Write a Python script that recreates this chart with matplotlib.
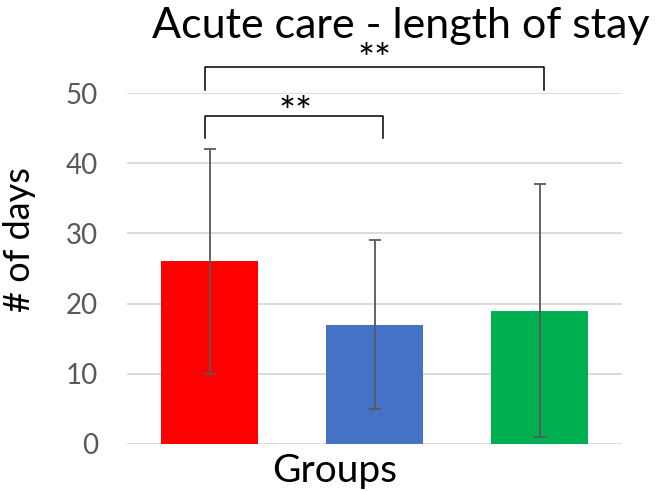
import numpy as np
import matplotlib.pyplot as plt

plt.rcParams['font.family'] = ['Lato', 'DejaVu Sans']

# average length of stay per group, with error bar limits
groups = ['Group 1', 'Group 2', 'Group 3']
days = [26, 17, 19]
err_low = [10, 5, 1]
err_high = [42, 29, 37]
colors = ['#FF0000', '#4472C4', '#00B050']

# significance brackets: (left bar, right bar, label)
sig_pairs = [(0, 1, '**'), (0, 2, '**')]

fig = plt.figure(figsize=(6.59, 4.91), dpi=100)
ax = fig.add_axes([127 / 659, 1 - 444 / 491, 495 / 659, 351 / 491])

x = np.arange(len(groups))
yerr = [np.array(days) - np.array(err_low), np.array(err_high) - np.array(days)]
ax.bar(x, days, width=0.59, color=colors, zorder=2)
ax.errorbar(x, days, yerr=yerr, fmt='none', ecolor='#595959', elinewidth=1.3,
            capsize=4.5, capthick=1.3, zorder=3)

ax.set_xlim(-0.5, 2.5)
ax.set_ylim(0, 50)
ax.set_yticks(range(0, 51, 10))
ax.set_xticks([])
ax.grid(axis='y', color='#d9d9d9', linewidth=1.3, zorder=0)
for s in ax.spines.values():
    s.set_visible(False)
ax.tick_params(axis='y', length=0, labelsize=20, labelcolor='#595959', pad=21)

# brackets drawn in data units
brackets = [(-0.03, 1.05, 43.6, 46.7), (-0.03, 2.03, 50.4, 53.7)]
star_pos = [(0.52, 49.6), (1.0, 57.1)]
for (x0, x1, yb, yt), (sx, sy), (_, _, lab) in zip(brackets, star_pos, sig_pairs):
    ax.plot([x0, x0, x1, x1], [yb, yt, yt, yb], color='black', lw=1.1,
            clip_on=False, zorder=4)
    ax.text(sx, sy, lab, ha='center', va='top', fontsize=29, clip_on=False)

fig.text(401 / 659, 1 - 38 / 491, 'Acute care - length of stay', ha='center',
         va='baseline', fontsize=31)
fig.text(335 / 659, 1 - 482 / 491, 'Groups', ha='center', va='baseline', fontsize=28)
fig.text(20 / 659, 1 - 240 / 491, '# of days', ha='center', va='center',
         fontsize=26, rotation=90)

fig.savefig('out.png', dpi=100)
